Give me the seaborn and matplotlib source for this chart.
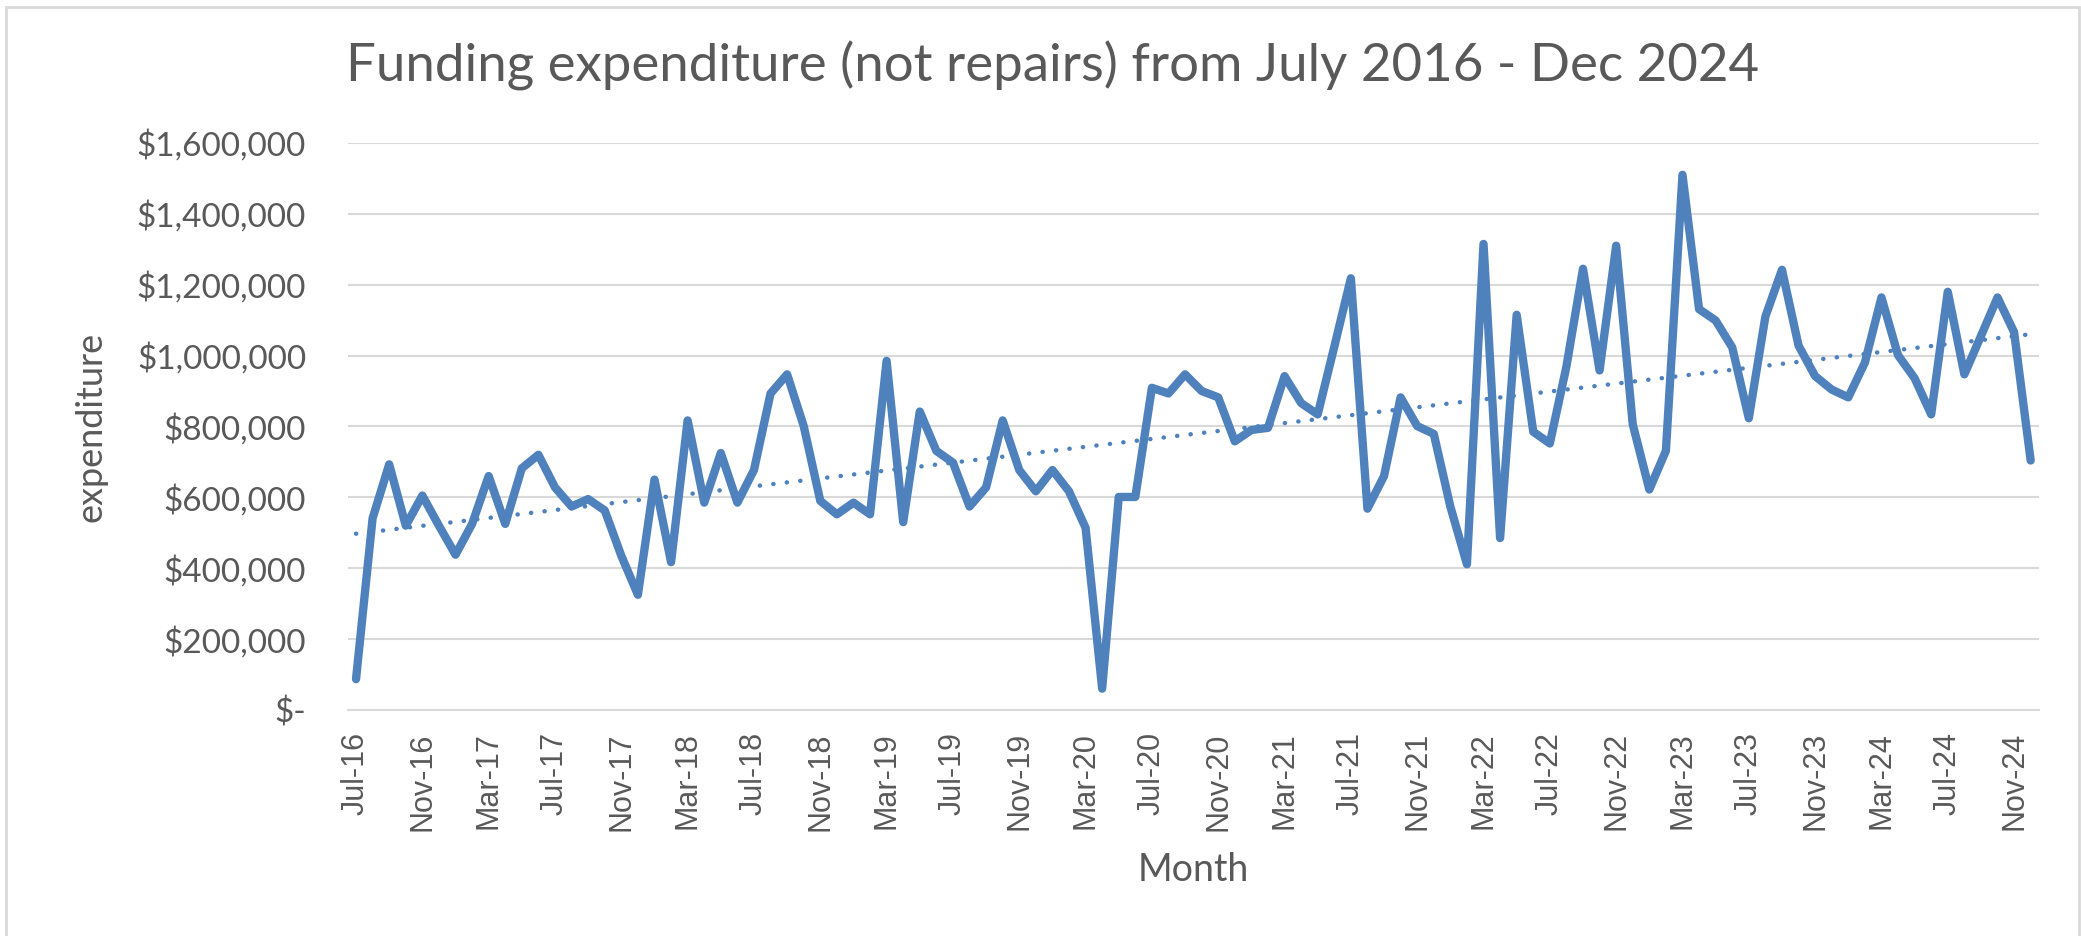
import numpy as np
import pandas as pd
import matplotlib
matplotlib.use("Agg")
from matplotlib import pyplot as plt
from matplotlib.patches import Rectangle
from matplotlib.ticker import FuncFormatter, FixedLocator
import seaborn as sns

# monthly spend, Jul 2016 - Dec 2024
months = pd.date_range("2016-07-01", periods=102, freq="MS")
expenditure = [
    87000, 541000, 693000, 520000, 605000, 520000, 438000, 525000, 660000, 525000,
    682000, 720000, 628000, 574000, 595000, 563000, 435000, 325000, 650000, 417000,
    817000, 585000, 725000, 585000, 677000, 893000, 947000, 801000, 590000, 552000,
    585000, 552000, 985000, 530000, 842000, 731000, 698000, 574000, 628000, 817000,
    677000, 617000, 677000, 617000, 514000, 60000, 601000, 601000, 909000, 893000,
    947000, 900000, 882000, 758000, 790000, 796000, 942000, 866000, 834000, 1025000,
    1218000, 568000, 660000, 882000, 801000, 779000, 574000, 411000, 1315000, 485000,
    1115000, 785000, 752000, 969000, 1245000, 958000, 1310000, 806000, 622000, 731000,
    1510000, 1131000, 1099000, 1023000, 823000, 1110000, 1242000, 1028000, 942000, 904000,
    882000, 980000, 1164000, 1001000, 936000, 834000, 1180000, 947000, 1055000, 1164000,
    1066000, 704000,
]
tick_labels = [
    "Jul-16", "Nov-16", "Mar-17", "Jul-17", "Nov-17", "Mar-18", "Jul-18", "Nov-18",
    "Mar-19", "Jul-19", "Nov-19", "Mar-20", "Jul-20", "Nov-20", "Mar-21", "Jul-21",
    "Nov-21", "Mar-22", "Jul-22", "Nov-22", "Mar-23", "Jul-23", "Nov-23", "Mar-24",
    "Jul-24", "Nov-24",
]
y_ticks = [0, 200000, 400000, 600000, 800000, 1000000, 1200000, 1400000, 1600000]

df = pd.DataFrame({"month": months, "expenditure": expenditure})
df["pos"] = np.arange(len(df))

# excel style linear trendline
slope, intercept = np.polyfit(df.pos, df.expenditure, 1)
df["trend"] = intercept + slope * df.pos

sns.set_theme(style="white")
plt.rcParams["font.family"] = ["Lato", "DejaVu Sans"]

blue = "#4F81BD"
grey_text = "#595959"
grey_line = "#D9D9D9"

fig = plt.figure(figsize=(20.81, 9.36), dpi=100)
ax = fig.add_axes([0.1671, 0.2415, 0.8127, 0.6058])

sns.lineplot(data=df, x="pos", y="trend", ax=ax, color=blue, lw=3.2,
             linestyle=(0, (0.05, 3.0)), dash_capstyle="round")
sns.lineplot(data=df, x="pos", y="expenditure", ax=ax, color=blue, lw=6,
             solid_joinstyle="round", solid_capstyle="round")

ax.set_xlim(-0.5, len(df) - 0.5)
ax.set_ylim(0, 1600000)
ax.set_yticks(y_ticks)
ax.yaxis.set_major_formatter(FuncFormatter(lambda v, _: "$-" if v == 0 else f"${v:,.0f}"))
ax.grid(axis="y", color=grey_line, lw=1.5)
ax.set_axisbelow(True)

label_pos = df.pos[::4].values
ax.xaxis.set_major_locator(FixedLocator(label_pos))
ax.set_xticklabels(tick_labels, rotation=90, family=["Liberation Sans", "DejaVu Sans"],
                   fontsize=22, color=grey_text)
ax.xaxis.set_minor_locator(FixedLocator(label_pos - 0.5))
ax.tick_params(axis="x", which="major", length=0, pad=16)
ax.tick_params(axis="x", which="minor", length=8, width=1.5, color=grey_line, direction="out")
ax.tick_params(axis="y", length=0, pad=30, labelsize=24, labelcolor=grey_text)

for side in ["left", "right", "top"]:
    ax.spines[side].set_visible(False)
ax.spines["bottom"].set_color(grey_line)
ax.spines["bottom"].set_linewidth(1.5)

ax.set_xlabel("Month", fontsize=27, color=grey_text)
ax.xaxis.set_label_coords(0.5, -0.282)
ax.xaxis.label.set_va("center")
ax.set_ylabel("expenditure", fontsize=26, color=grey_text)
ax.yaxis.set_label_coords(-0.152, 0.5)
ax.yaxis.label.set_va("center")

fig.text(0.506, 1 - 66 / 936, "Funding expenditure (not repairs) from July 2016 - Dec 2024",
         ha="center", va="center", fontsize=38, color=grey_text)

# chart area border
fig.patches.append(Rectangle((0.003, -0.01), 0.996, 1.003, transform=fig.transFigure,
                             fill=False, edgecolor=grey_line, lw=2))

fig.savefig("out.png", dpi=100)
